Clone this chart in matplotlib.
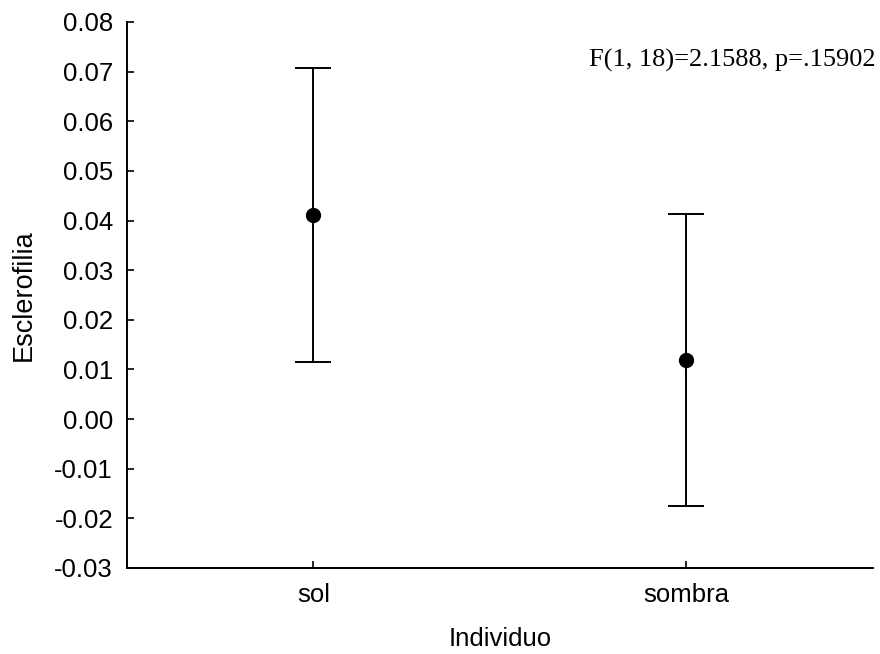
import matplotlib
matplotlib.use("Agg")
import matplotlib.pyplot as plt

categories = ["sol", "sombra"]
means = [0.0411, 0.0119]
err = [0.0296, 0.0295]
yticks = [-0.03, -0.02, -0.01, 0.00, 0.01, 0.02, 0.03, 0.04, 0.05, 0.06, 0.07, 0.08]
annotation = "F(1, 18)=2.1588, p=.15902"

plt.rcParams['font.family'] = ['Liberation Sans', 'DejaVu Sans']

fig = plt.figure(figsize=(8.8, 6.54), dpi=100)
ax = fig.add_axes([0.1443, 0.1315, 0.8477, 0.8349])

x = list(range(len(categories)))
ax.errorbar(x, means, yerr=err, fmt='o', color='black', ecolor='black',
            markersize=10, elinewidth=1.4, capsize=13.3, capthick=1.4)

ax.set_xlim(-0.5, 1.5)
ax.set_ylim(-0.03, 0.08)
ax.set_yticks(yticks)
ax.set_yticklabels([f"{v:.2f}" for v in yticks])
ax.set_xticks(x)
ax.set_xticklabels(categories)

for s in ['top', 'right']:
    ax.spines[s].set_visible(False)
for s in ['left', 'bottom']:
    ax.spines[s].set_linewidth(1.4)

ax.tick_params(axis='both', direction='in', length=5, width=1.2, labelsize=18.5)
ax.tick_params(axis='y', pad=10)
ax.tick_params(axis='x', pad=11)

ax.set_xlabel("Individuo", fontsize=18.5, labelpad=14)
ax.set_ylabel("Esclerofilia", fontsize=19.5, labelpad=13)

ax.text(1.003, 0.930, annotation, transform=ax.transAxes, ha='right', va='center',
        fontsize=19, family=['Liberation Serif', 'DejaVu Serif'])

fig.savefig("out.png", dpi=100)
